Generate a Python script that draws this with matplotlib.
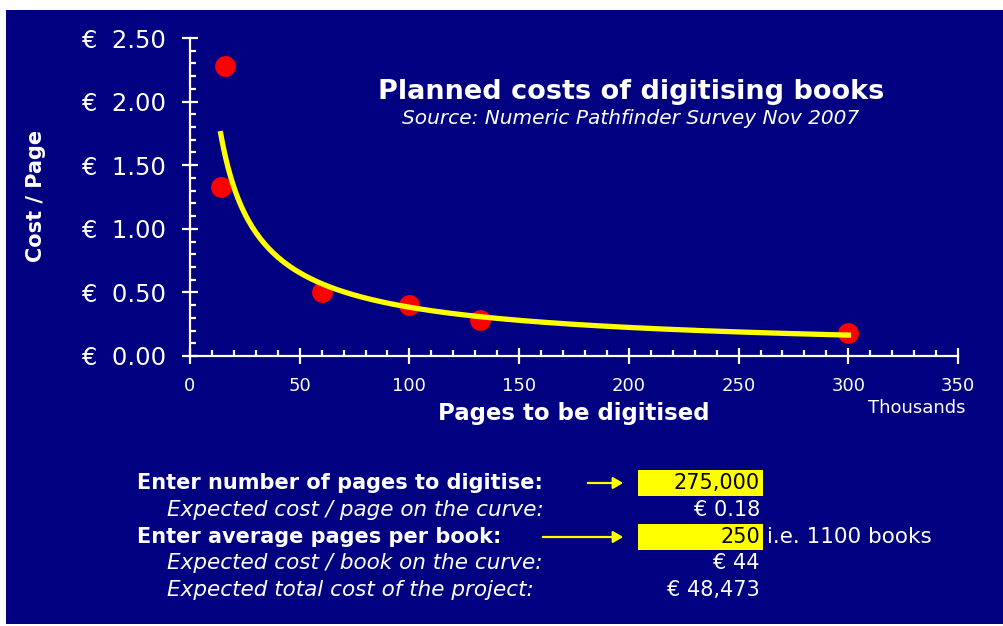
import numpy as np
import matplotlib
matplotlib.use("Agg")
import matplotlib.pyplot as plt
from matplotlib.patches import Rectangle, FancyArrowPatch
from matplotlib.ticker import FuncFormatter, MultipleLocator

# survey points (pages in thousands, cost per page in euro)
pages_k = [16, 14, 60, 100, 132, 300]
cost_page = [2.28, 1.33, 0.50, 0.40, 0.28, 0.18]

# calculator block shown under the chart
row_labels = ["Enter number of pages to digitise:",
              "Expected cost / page on the curve:",
              "Enter average pages per book:",
              "Expected cost / book on the curve:",
              "Expected total cost of the project:"]
row_values = ["275,000", "€ 0.18", "250", "€ 44", "€ 48,473"]
row_is_input = [True, False, True, False, False]
books_note = "i.e. 1100 books"

NAVY = "#000080"
W, H = 1004, 626


def fx(x):
    return x / W


def fy(y):
    return 1 - y / H


fig = plt.figure(figsize=(W / 100, H / 100), dpi=100, facecolor="white")
fig.patches.append(Rectangle((fx(6), fy(624)), 1 - fx(6), fy(10) - fy(624),
                             transform=fig.transFigure, facecolor=NAVY,
                             edgecolor="none", zorder=-5))

ax = fig.add_axes([fx(190), fy(356), fx(958) - fx(190), fy(38) - fy(356)])
ax.set_facecolor("none")
ax.set_zorder(2)

# power trendline fitted on the survey points
b, lna = np.polyfit(np.log(pages_k), np.log(cost_page), 1)
xs = np.linspace(min(pages_k), max(pages_k), 300)
ax.plot(xs, np.exp(lna) * xs ** b, color="#ffff00", lw=3.8, zorder=3)
ax.plot(pages_k, cost_page, "o", color="#ff0000", ms=15, mec="none", zorder=2)

ax.set_xlim(0, 350)
ax.set_ylim(0, 2.5)
ax.xaxis.set_major_locator(MultipleLocator(50))
ax.xaxis.set_minor_locator(MultipleLocator(10))
ax.yaxis.set_major_locator(MultipleLocator(0.5))
ax.yaxis.set_minor_locator(MultipleLocator(0.1))
ax.yaxis.set_major_formatter(FuncFormatter(lambda v, p: f"€  {v:.2f}"))

for s in ["top", "right"]:
    ax.spines[s].set_visible(False)
for s in ["left", "bottom"]:
    ax.spines[s].set_color("white")
    ax.spines[s].set_linewidth(1.6)

ax.tick_params(which="major", direction="inout", length=12, width=1.6, color="white")
ax.tick_params(which="minor", direction="in", length=4.5, width=1.6, color="white")
ax.tick_params(axis="y", which="major", labelsize=17.5, labelcolor="white", pad=11)
ax.tick_params(axis="x", which="major", labelsize=13, labelcolor="white", pad=9)

ax.set_xlabel("Pages to be digitised", color="white", fontsize=16.5,
              fontweight="bold", labelpad=5)
ax.set_ylabel("Cost / Page", color="white", fontsize=15, fontweight="bold")
ax.yaxis.set_label_coords(fx(46), fy(196), transform=fig.transFigure)

fig.text(fx(917), fy(408), "Thousands", color="white", fontsize=13,
         ha="center", va="center")
fig.text(fx(631), fy(92), "Planned costs of digitising books", color="white",
         fontsize=19.5, fontweight="bold", ha="center", va="center")
fig.text(fx(631), fy(118), "Source: Numeric Pathfinder Survey Nov 2007",
         color="white", fontsize=14.5, style="italic", ha="center", va="center")

# calculator rows
row_y = [483, 510, 537, 563, 590]
arrow_start = [585, 540]
k = 0
for lab, val, inp, y in zip(row_labels, row_values, row_is_input, row_y):
    if inp:
        fig.text(fx(137), fy(y), lab, color="white", fontsize=15,
                 fontweight="bold", ha="left", va="center")
        fig.patches.append(Rectangle((fx(638), fy(y + 13)), fx(763) - fx(638),
                                     fy(y - 13) - fy(y + 13),
                                     transform=fig.transFigure,
                                     facecolor="#ffff00", edgecolor="none"))
        fig.patches.append(FancyArrowPatch((fx(arrow_start[k]), fy(y)), (fx(626), fy(y)),
                                           transform=fig.transFigure,
                                           arrowstyle="-|>,head_length=6,head_width=3.5",
                                           color="#ffff00", lw=1.6))
        k += 1
        fig.text(fx(760), fy(y), val, color="black", fontsize=15,
                 ha="right", va="center")
    else:
        fig.text(fx(167), fy(y), lab, color="white", fontsize=15.5,
                 style="italic", ha="left", va="center")
        fig.text(fx(760), fy(y), val, color="white", fontsize=15,
                 ha="right", va="center")

fig.text(fx(767), fy(row_y[2]), books_note, color="white", fontsize=15.5,
         ha="left", va="center")

fig.savefig("out.png", dpi=100, facecolor="white")
